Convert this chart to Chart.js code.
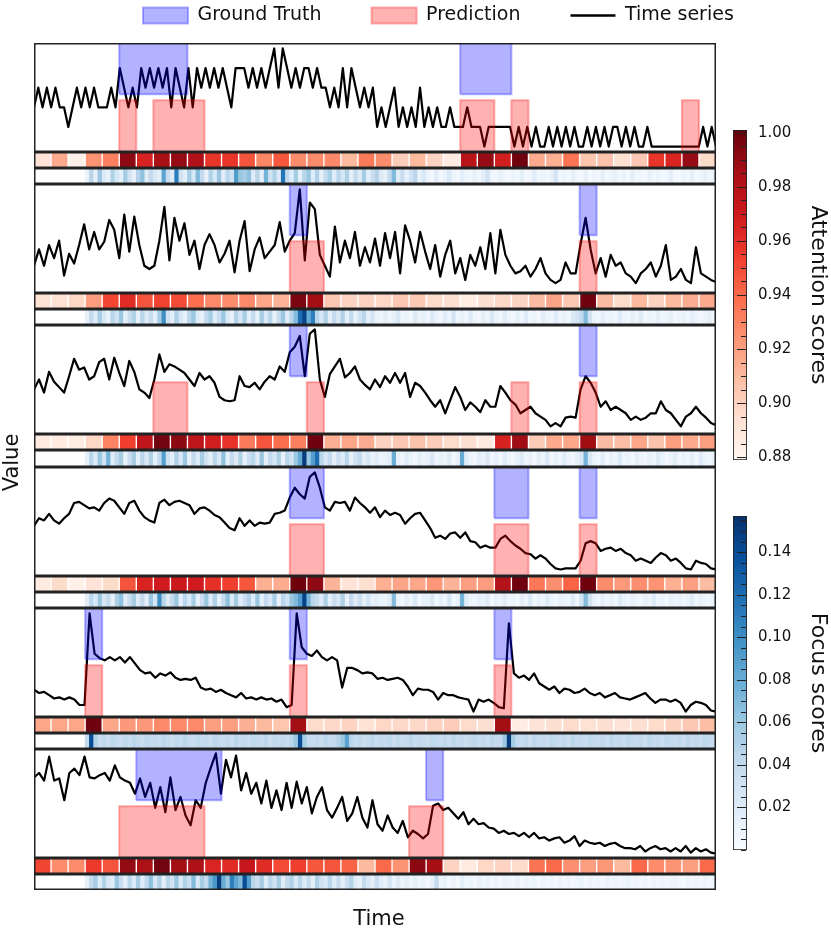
<!DOCTYPE html>
<html>
<head>
<meta charset="utf-8">
<title>Attention / focus scores</title>
<script src="https://cdn.jsdelivr.net/npm/chart.js@4.4.0/dist/chart.umd.min.js"></script>
<style>
  html, body { margin: 0; padding: 0; background: #fff; overflow: hidden; }
  #fig { position: relative; width: 831px; height: 935px; }
  #fig canvas { position: absolute; }
</style>
</head>
<body>
<div id="fig"></div>
<script>
// ---- time axis: 40 attention windows of 17 steps ----
const T_LEN = 680;
const SEG = 17;
const FOCUS_FROM = 3;          // focus scores start after window 3

// ---- colorbar ticks / limits ----
const ATT_TICKS = [0.88, 0.90, 0.92, 0.94, 0.96, 0.98, 1.00];
const FOCUS_TICKS = [0.02, 0.04, 0.06, 0.08, 0.10, 0.12, 0.14];
const ATT_LIM = [0.879, 1.001];
const FOCUS_LIM = [0, 0.157];

// ---- time series (0 = bottom of plot, 100 = top) ----
const S1 = [41,59,41,59, 41,59,41,41, 23,41,59,41, 59,41,59,41, 41,41,59,41,
  77,59,41,59, 41,77,59,77, 59,77,59,77, 41,77,59,41, 77,41,77,59,
  77,59,77,59, 77,59,41,77, 77,77,59,77, 59,77,59,77, 95,59,95,77,
  59,77,59,77, 77,59,77,59, 59,41,59,41, 77,41,77,59, 41,59,41,59,
  23,41,23,41, 59,23,41,23, 41,23,59,23, 41,23,41,23, 23,41,23,23,
  23,41,23,23, 23,5,23,23, 23,23,23,23, 5,23,5,23, 5,23,5,5,
  23,5,23,5, 23,5,23,5, 5,23,5,23, 5,23,5,23, 23,5,23,5,
  23,5,5,23, 5,5,5,5, 5,5,5,5, 5,5,5,5, 23,5,23,5];
const S2 = [25,40,25,44, 32,48,16,36, 27,44,63,40, 56,40,47,67, 58,32,72,38, 70,44,25,22,
  25,48,79,30, 69,48,64,35, 48,22,44,54, 44,28,36,48, 19,48,66,20, 40,51,32,38, 44,65,38,48,
  55,95,30,83, 77,35,25,15, 61,28,48,32, 56,25,42,28, 50,25,55,32, 56,18,62,48, 28,56,38,22,
  44,15,35,48, 18,32,12,35, 25,42,22,55, 18,58,35,25, 18,20,25,15, 22,32,18,12, 9,12,28,18,
  18,45,69,40, 18,32,15,35, 25,28,18,15, 9,18,22,28, 15,25,44,12, 15,22,12,9, 42,18,15,12, 10];
const S3 = [41,50,38,57, 48,43,38,53, 69,59,61,50, 53,66,69,50, 70,56,44,67, 57,41,38,33,
  50,73,57,64, 62,59,56,50, 44,56,50,53, 47,34,31,30, 31,53,44,43, 47,41,48,53, 50,62,57,75,
  80,90,53,92, 96,50,34,55, 62,69,52,56, 62,50,45,41, 50,43,53,47, 56,47,56,34, 47,44,38,31,
  25,31,19,31, 43,34,22,29, 25,20,31,25, 25,44,38,31, 27,19,22,25, 19,16,13,7, 10,7,15,16,
  15,41,53,47, 38,25,30,22, 25,22,19,13, 16,13,15,19, 19,30,22,19, 13,7,16,19, 25,19,15,10, 8];
const S4 = [46,53,51,57, 51,48,53,57, 67,68,65,62, 63,60,67,71, 69,63,57,67, 69,60,54,51,
  49,67,70,65, 68,69,67,65, 57,62,63,60, 56,54,49,44, 42,53,46,51, 46,49,48,49, 57,58,60,72,
  81,75,71,91, 95,81,63,60, 68,67,68,60, 72,67,63,58, 63,54,60,56, 58,56,48,53, 57,58,51,44,
  35,37,34,39, 40,35,40,32, 31,26,28,26, 26,34,37,32, 28,25,21,20, 16,19,16,11, 7,6,7,7,
  7,14,30,32, 30,23,25,26, 23,25,21,19, 14,16,14,12, 17,21,19,14, 16,12,7,6, 14,12,11,7, 6];
const S5 = [25,22,23,20, 17,18,16,18, 16,11,11,95, 58,54,52,55, 52,55,50,55, 49,43,40,41,
  36,40,38,41, 36,34,35,34, 36,27,25,26, 23,25,22,20, 18,22,17,18, 16,18,16,17, 14,16,9,11,
  95,64,58,56, 61,55,52,55, 52,27,45,45, 43,40,41, 40,35,36,34, 35,36,34,28, 20,26,25,25,
  23,16,22,20, 20,18,17,16, 5,16,14,16, 13,9,8,86, 40,36,38,34, 40,31,28,25, 28,22,26,25,
  22,23,26,22, 20,22,18,20, 22,18,17,16, 18,20,22,17, 13,16,16,14, 16,13,5,11, 14,13,11,6, 5];
const S6 = [74,78,71,93, 71,73,53,78, 82,76,93,74, 73,76,78,71, 85,74,71,69, 59,73,56,69,
  46,65,42,74, 44,56,39,30, 53,46,69,83, 96,59,90,74, 94,62,78,59, 69,50,71,46, 62,44,69,46,
  70,50,65,41, 56,65,44,37, 46,56,34,41, 56,37,28, 53,31,25,39, 28,23,34,19, 25,22,18,22,
  48,50,44,46, 41,36,42,31, 36,31,32,28, 27,23,25,22, 23,20,23,19, 23,18,19,16, 18,19,14,16,
  20,11,16,14, 13,14,11,13, 14,11,9,9, 8,11,6,9, 11,8,9,6, 9,6,11,5, 9,6,8,5, 4];

// ---- attention score per window (40 windows) ----
const ATT1 = [0.892,0.916,0.882,0.924,0.932,0.992,0.966,0.984,0.990,0.981,0.958,0.958,0.947,0.929,0.946,0.927,0.927,0.928,0.910,0.934,
  0.927,0.902,0.910,0.899,0.886,0.978,0.990,0.968,0.999,0.916,0.914,0.936,0.905,0.906,0.894,0.904,0.958,0.965,0.990,0.896];
const ATT2 = [0.893,0.893,0.898,0.921,0.952,0.962,0.947,0.953,0.950,0.938,0.928,0.927,0.928,0.917,0.912,0.996,0.986,0.904,0.899,0.899,
  0.898,0.904,0.904,0.896,0.894,0.885,0.894,0.897,0.899,0.909,0.918,0.904,0.999,0.909,0.896,0.910,0.900,0.910,0.915,0.916];
const ATT3 = [0.886,0.886,0.885,0.898,0.930,0.954,0.976,0.998,0.992,0.976,0.968,0.959,0.933,0.947,0.938,0.932,0.999,0.914,0.917,0.915,
  0.900,0.904,0.906,0.902,0.896,0.894,0.886,0.966,0.987,0.903,0.916,0.917,0.987,0.909,0.908,0.917,0.906,0.920,0.916,0.920];
const ATT4 = [0.886,0.896,0.882,0.891,0.896,0.947,0.965,0.969,0.971,0.969,0.960,0.954,0.946,0.914,0.915,0.999,0.992,0.912,0.891,0.894,
  0.914,0.918,0.917,0.923,0.912,0.920,0.921,0.980,0.999,0.935,0.926,0.942,0.999,0.927,0.922,0.926,0.924,0.914,0.920,0.909];
const ATT5 = [0.917,0.917,0.917,0.999,0.917,0.922,0.922,0.928,0.928,0.928,0.920,0.920,0.914,0.910,0.905,0.986,0.896,0.897,0.899,0.893,
  0.898,0.897,0.897,0.900,0.902,0.896,0.894,0.986,0.885,0.891,0.894,0.896,0.893,0.894,0.891,0.894,0.896,0.900,0.904,0.908];
const ATT6 = [0.952,0.927,0.927,0.956,0.947,0.990,0.983,0.998,0.986,0.982,0.965,0.962,0.972,0.962,0.950,0.954,0.946,0.947,0.942,0.910,
  0.940,0.924,0.992,0.984,0.899,0.886,0.898,0.899,0.896,0.936,0.940,0.926,0.920,0.923,0.910,0.940,0.927,0.924,0.920,0.940];

// ---- focus scores (x 0.001), from window 3 to the end ----
const FOC1 = [10,45,15,60,20,12,50,25,14,55, 30,12,48,65,18,40,22,15,85,35, 20,110,30,15,55,25,70,40,12,50,
  25,60,15,45,30,90,60,55,65,20, 45,15,75,30,50,20,115,40,18,55, 15,45,60,20,50,12,40,55,18,45,
  25,50,14,40,20,55,15,35,48,20, 12,40,70,18,35,12,30,45,10,25, 8,6,18,5,10,22,7,5,15,8,
  6,12,5,16,30,8,5,12,6,4, 9,5,14,4,7,18,5,9,4,12, 28,5,9,4,14,6,5,12,4,8,
  5,14,4,7,12,5,9,4,15,5, 7,4,12,5,9,4,7,16,5,4, 9,5,12,4,7,14,5,9];
const FOC2 = [12,40,18,55,25,10,45,30,60,15, 35,50,12,45,20,38,15,55,100,30, 15,50,25,12,45,60,20,14,40,55,
  18,35,60,22,12,48,25,55,15,40, 14,55,22,45,12,38,60,18,45,70, 120,145,80,110,45,25,50,15,40,22,
  50,15,40,12,30,45,14,28,10,8, 16,6,12,24,8,10,5,20,9,14, 6,22,10,5,18,8,28,7,12,6,
  20,8,5,15,7,24,10,6,18,9, 5,14,7,20,6,10,4,16,9,6, 18,7,12,5,22,28,40,70,30,9,
  6,15,7,10,5,18,8,6,14,7, 20,5,10,7,15,6,9,13,5,8, 11,6,16,9,5,8,14,6];
const FOC3 = [14,45,20,60,30,75,18,40,55,12, 35,55,15,45,22,50,14,40,90,30, 15,50,25,60,12,40,20,55,30,15,
  45,22,65,15,40,20,50,12,35,45, 18,60,15,40,25,50,12,45,30,60, 80,150,60,90,120,45,25,40,15,35,
  20,45,12,30,40,15,25,10,18,8, 10,16,80,12,6,18,9,5,16,8, 12,24,7,14,8,20,5,12,80,18,
  8,5,16,10,22,6,12,4,18,8, 5,14,20,7,12,4,16,8,22,5, 12,6,18,8,5,14,24,75,25,10,
  6,18,5,12,8,22,7,10,4,15, 8,5,14,7,20,10,4,9,16,5, 10,7,15,5,18,9,6,12];
const FOC4 = [16,45,22,60,25,40,14,50,65,18, 35,55,20,40,15,60,25,100,45,20, 40,60,15,45,22,55,12,35,60,20,
  50,15,40,65,22,55,18,35,50,20, 60,15,40,25,55,12,45,30,60,70, 90,145,75,45,40,20,50,15,35,25,
  50,12,40,20,35,15,28,12,16,10, 8,18,70,10,6,16,8,22,5,12, 10,22,6,14,8,26,5,12,75,18,
  8,6,15,10,20,5,12,8,18,6, 10,4,16,8,22,5,12,7,18,9, 5,14,10,6,20,8,28,70,30,12,
  6,16,8,12,5,20,10,6,14,8, 5,12,8,18,6,10,4,14,8,12, 6,10,18,5,12,8,6,10];
const FOC5 = [40,140,50,38,42,36,44,40,35,42, 38,45,40,36,43,39,41,37,44,40, 36,42,38,45,40,37,43,39,41,36,
  44,40,38,42,36,45,39,41,37,43, 40,38,44,36,42,39,41,37,45,60, 140,55,40,38,42,36,44,39,41,48,
  60,85,45,38,42,36,40,44,37,41, 39,43,36,42,38,40,44,37,41,39, 36,43,40,38,42,37,44,39,41,36,
  40,43,38,42,37,44,40,39,60,150, 55,40,38,42,36,44,39,41,37,43, 40,38,42,36,44,39,41,37,43,40,
  38,42,36,44,39,41,37,43,40,38, 42,36,44,39,41,37,43,40,38,42, 36,44,39,41,37,43,40,38];
const FOC6 = [14,40,55,20,50,25,18,60,35,15, 45,22,55,18,40,65,25,50,15,45, 30,60,22,50,35,70,25,55,40,75,
  95,150,80,60,110,85,70,140,90,45, 35,55,20,45,30,55,18,40,50,22, 45,20,40,15,50,30,22,45,18,38,
  15,35,48,20,12,40,25,15,35,18, 12,28,10,20,8,15,7,14,6,10, 5,14,40,8,12,5,10,4,13,6,
  9,4,12,6,10,5,8,4,9,6, 5,10,4,8,6,9,3,8,5,7, 4,9,5,8,3,7,10,4,8,5,
  7,3,9,5,8,4,7,10,5,8, 4,7,3,9,5,8,4,7,9,5, 3,8,5,7,4,9,5,7];

// ---- ground truth / predicted anomaly windows [from, to) ----
const GT1 = [[5, 9], [25, 28]];
const PRED1 = [[5, 6], [7, 10], [25, 27], [28, 29], [38, 39]];
const GT2 = [[15, 16], [32, 33]];
const PRED2 = [[15, 17], [32, 33]];
const GT3 = [[15, 16], [32, 33]];
const PRED3 = [[7, 9], [16, 17], [28, 29], [32, 33]];
const GT4 = [[15, 17], [27, 29], [32, 33]];
const PRED4 = [[15, 17], [27, 29], [32, 33]];
const GT5 = [[3, 4], [15, 16], [27, 28]];
const PRED5 = [[3, 4], [15, 16], [27, 28]];
const GT6 = [[6, 11], [23, 24]];
const PRED6 = [[5, 10], [22, 24]];

const SERIES = [S1, S2, S3, S4, S5, S6];
const ATT = [ATT1, ATT2, ATT3, ATT4, ATT5, ATT6];
const FOCUS = [FOC1, FOC2, FOC3, FOC4, FOC5, FOC6];
const GT = [GT1, GT2, GT3, GT4, GT5, GT6];
const PRED = [PRED1, PRED2, PRED3, PRED4, PRED5, PRED6];

// ---- layout / style ----
const PANEL_TOPS = [43, 184, 325, 467, 608, 749];
const PANEL_END = 890;
const PLOT_H = 109;
const STRIP_H = 16;
const GT_BAND = [53, 101];
const PRED_BAND = [-1, 47.5];
const BLUE = 'rgba(0, 0, 255, 0.3)';
const RED = 'rgba(255, 0, 0, 0.3)';
const REDS = ['#fff5f0', '#fee0d2', '#fcbba1', '#fc9272', '#fb6a4a', '#ef3b2c', '#cb181d', '#a50f15', '#67000d'];
const BLUES = ['#f7fbff', '#deebf7', '#c6dbef', '#9ecae1', '#6baed6', '#4292c6', '#2171b5', '#08519c', '#08306b'];

Chart.defaults.font.family = "'DejaVu Sans', sans-serif";
Chart.defaults.font.size = 15;
Chart.defaults.color = '#111';

function hexRgb(h) {
  return [1, 3, 5].map(i => parseInt(h.slice(i, i + 2), 16));
}

function cmap(stops, t) {
  t = Math.min(1, Math.max(0, t));
  const p = t * (stops.length - 1);
  const i = Math.min(stops.length - 2, Math.floor(p));
  const f = p - i;
  const a = hexRgb(stops[i]), b = hexRgb(stops[i + 1]);
  const c = a.map((v, k) => Math.round(v + (b[k] - v) * f));
  return `rgb(${c[0]}, ${c[1]}, ${c[2]})`;
}

const fig = document.getElementById('fig');
function makeCanvas(left, top, width, height) {
  const c = document.createElement('canvas');
  c.width = width;
  c.height = height;
  Object.assign(c.style, { left: left + 'px', top: top + 'px', width: width + 'px', height: height + 'px' });
  fig.appendChild(c);
  return c;
}

const base = () => ({
  responsive: false,
  animation: false,
  events: [],
  plugins: { legend: { display: false }, tooltip: { enabled: false } }
});

// black frame round each plot / strip
const framePlugin = {
  id: 'frame',
  afterDraw(chart) {
    const { ctx, chartArea: a } = chart;
    ctx.save();
    ctx.strokeStyle = '#222';
    ctx.lineWidth = 1.5;
    ctx.strokeRect(a.left + 0.75, a.top + 0.75, a.right - a.left - 1.5, a.bottom - a.top - 1.5);
    ctx.restore();
  }
};

// inward tick marks on the colorbars
const innerTicks = {
  id: 'innerTicks',
  afterDatasetsDraw(chart, args, opts) {
    const { ctx, chartArea, scales: { y } } = chart;
    ctx.save();
    ctx.strokeStyle = '#222';
    ctx.lineWidth = 1;
    y.ticks.forEach(t => {
      const py = Math.round(y.getPixelForValue(t.value)) + 0.5;
      const len = opts.major.some(m => Math.abs(m - t.value) < 1e-6) ? 9 : 5;
      ctx.beginPath();
      ctx.moveTo(chartArea.right - 1, py);
      ctx.lineTo(chartArea.right - 1 - len, py);
      ctx.stroke();
    });
    ctx.restore();
  }
};

function spanDataset([a, b], [lo, hi], color) {
  const x0 = a * SEG, x1 = b * SEG;
  return {
    data: [{ x: x0, y: lo }, { x: x0, y: hi }, { x: x1, y: hi }, { x: x1, y: lo }, { x: x0, y: lo }],
    borderColor: color,
    backgroundColor: color,
    borderWidth: 2,
    fill: 'shape',
    pointRadius: 0,
    tension: 0,
    order: 0
  };
}

function stripOptions() {
  return {
    ...base(),
    scales: {
      x: { type: 'linear', min: 0, max: T_LEN, offset: false, display: false },
      y: { min: 0, max: 1, display: false }
    }
  };
}

function drawPanel(k) {
  const top = PANEL_TOPS[k];
  const next = k < PANEL_TOPS.length - 1 ? PANEL_TOPS[k + 1] : PANEL_END;
  const series = SERIES[k];
  const step = T_LEN / (series.length - 1);

  new Chart(makeCanvas(34, top, 682, PLOT_H), {
    type: 'line',
    data: {
      datasets: [
        ...GT[k].map(w => spanDataset(w, GT_BAND, BLUE)),
        ...PRED[k].map(w => spanDataset(w, PRED_BAND, RED)),
        {
          data: series.map((v, j) => ({ x: j * step, y: v })),
          borderColor: '#000',
          borderWidth: 2.2,
          borderJoinStyle: 'round',
          pointRadius: 0,
          tension: 0,
          fill: false,
          order: 1
        }
      ]
    },
    options: {
      ...base(),
      scales: {
        x: { type: 'linear', min: 0, max: T_LEN, display: false },
        y: { min: 0, max: 100, display: false }
      }
    },
    plugins: [framePlugin]
  });

  // attention windows
  const att = ATT[k];
  new Chart(makeCanvas(34, top + PLOT_H, 682, STRIP_H), {
    type: 'bar',
    data: {
      datasets: [{
        data: att.map((v, i) => ({ x: (i + 0.5) * SEG, y: [0, 1] })),
        backgroundColor: att.map(v => cmap(REDS, (v - ATT_LIM[0]) / (ATT_LIM[1] - ATT_LIM[0]))),
        borderWidth: 0,
        barPercentage: 0.92,
        categoryPercentage: 1
      }]
    },
    options: stripOptions(),
    plugins: [framePlugin]
  });

  // focus scores
  const foc = FOCUS[k];
  const fw = (T_LEN - FOCUS_FROM * SEG) / foc.length;
  new Chart(makeCanvas(34, top + PLOT_H + STRIP_H, 682, next - top - PLOT_H - STRIP_H), {
    type: 'bar',
    data: {
      datasets: [{
        data: foc.map((v, p) => ({ x: FOCUS_FROM * SEG + (p + 0.5) * fw, y: [0, 1] })),
        backgroundColor: foc.map(v => cmap(BLUES, (v / 1000 - FOCUS_LIM[0]) / (FOCUS_LIM[1] - FOCUS_LIM[0]))),
        borderWidth: 0,
        barPercentage: 1,
        categoryPercentage: 1
      }]
    },
    options: stripOptions(),
    plugins: [framePlugin]
  });
}

function drawColorbar(top, height, lim, majors, stops, title) {
  const minor = [];
  const n = Math.round((majors[majors.length - 1] - majors[0]) / 0.005);
  for (let i = -4; i <= n + 4; i++) {
    const v = +(majors[0] + i * 0.005).toFixed(4);
    if (v >= lim[0] && v <= lim[1]) minor.push(v);
  }
  new Chart(makeCanvas(726, top, 105, height), {
    type: 'bar',
    data: {
      labels: [''],
      datasets: [{
        data: [[lim[0], lim[1]]],
        backgroundColor(ctx) {
          const { chart } = ctx;
          if (!chart.chartArea) return stops[4];
          const y = chart.scales.y;
          const g = chart.ctx.createLinearGradient(0, y.getPixelForValue(lim[0]), 0, y.getPixelForValue(lim[1]));
          stops.forEach((c, i) => g.addColorStop(i / (stops.length - 1), c));
          return g;
        },
        borderColor: '#222',
        borderWidth: 1.2,
        borderSkipped: false,
        barPercentage: 1,
        categoryPercentage: 1
      }]
    },
    options: {
      ...base(),
      layout: { padding: { left: 7, top: 0, bottom: 0, right: 0 } },
      plugins: { legend: { display: false }, tooltip: { enabled: false }, innerTicks: { major: majors } },
      scales: {
        x: { display: false },
        y: {
          position: 'right',
          min: lim[0],
          max: lim[1],
          grid: { display: false, drawTicks: false },
          border: { display: false },
          afterBuildTicks: ax => { ax.ticks = minor.map(v => ({ value: v })); },
          afterFit: ax => { ax.width = 84; },
          ticks: {
            autoSkip: false,
            padding: 11,
            font: { size: 15 },
            callback: v => majors.some(m => Math.abs(m - v) < 1e-6) ? v.toFixed(2) : ''
          },
          title: { display: true, text: title, font: { size: 22 }, padding: { top: 0, bottom: 0 } }
        }
      }
    },
    plugins: [innerTicks]
  });
}

// axis titles ("Value", "Time") round the stack of panels
new Chart(makeCanvas(0, 0, 831, 935), {
  type: 'line',
  data: { datasets: [] },
  options: {
    ...base(),
    layout: { padding: { top: 43, right: 115, left: 0, bottom: 0 } },
    scales: {
      x: {
        type: 'linear', min: 0, max: 1,
        ticks: { display: false }, grid: { display: false }, border: { display: false },
        title: { display: true, text: 'Time', font: { size: 21 }, padding: { top: 17.4, bottom: 2.4 } }
      },
      y: {
        min: 0, max: 1,
        ticks: { display: false }, grid: { display: false }, border: { display: false },
        title: { display: true, text: 'Value', font: { size: 21 }, padding: { top: 0, bottom: 8.8 } }
      }
    }
  }
});

for (let k = 0; k < SERIES.length; k++) drawPanel(k);

// the scale keeps ~20px above / ~23px below the bar for its end labels
drawColorbar(110, 370, ATT_LIM, ATT_TICKS, REDS, 'Attention scores');
drawColorbar(496, 374, FOCUS_LIM, FOCUS_TICKS, BLUES, 'Focus scores');

// legend row at the top
new Chart(makeCanvas(0, -44, 831, 170), {
  type: 'line',
  data: { datasets: [] },
  options: {
    ...base(),
    layout: { padding: { left: 93 } },
    scales: { x: { display: false }, y: { display: false } },
    plugins: {
      tooltip: { enabled: false },
      legend: {
        display: true,
        position: 'top',
        align: 'start',
        labels: {
          usePointStyle: true,
          pointStyleWidth: 45,
          boxHeight: 16,
          padding: 50,
          font: { size: 19 },
          generateLabels: () => [
            { text: 'Ground Truth', fillStyle: BLUE, strokeStyle: BLUE, lineWidth: 2, pointStyle: 'rect', fontColor: '#111', hidden: false },
            { text: 'Prediction', fillStyle: RED, strokeStyle: RED, lineWidth: 2, pointStyle: 'rect', fontColor: '#111', hidden: false },
            { text: 'Time series', fillStyle: '#000', strokeStyle: '#000', lineWidth: 2.5, pointStyle: 'line', fontColor: '#111', hidden: false }
          ]
        }
      }
    }
  }
});
</script>
</body>
</html>
